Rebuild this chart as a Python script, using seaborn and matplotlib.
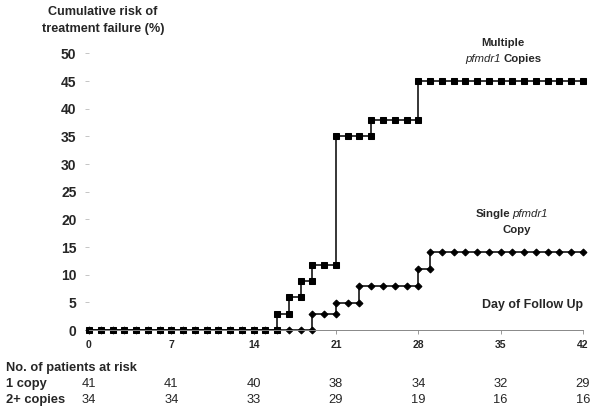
import numpy as np
import pandas as pd
import matplotlib
matplotlib.use("Agg")
import matplotlib.pyplot as plt
import matplotlib.transforms as mtransforms
import seaborn as sns

# day of follow up, one marker per day
days = list(range(0, 43))

# cumulative risk (%) on each day, after any step on that day
risk_multiple = [0] * 16 + [2.9, 5.9, 8.8, 11.8, 11.8, 35, 35, 35, 38, 38, 38, 38] + [45] * 15
risk_single = [0] * 19 + [2.9, 2.9, 4.9, 4.9, 7.9, 7.9, 7.9, 7.9, 7.9, 11.0] + [14.1] * 14

x_ticks = [0, 7, 14, 21, 28, 35, 42]
y_ticks = list(range(0, 55, 5))

# numbers at risk under each x tick
at_risk_1copy = [41, 41, 40, 38, 34, 32, 29]
at_risk_2copies = [34, 34, 33, 29, 19, 16, 16]


def step_points(d, r):
    # repeat a day when the risk steps up so the curve draws a vertical riser
    xs, ys = [], []
    prev = r[0]
    for day, val in zip(d, r):
        if val != prev:
            xs.append(day)
            ys.append(prev)
        xs.append(day)
        ys.append(val)
        prev = val
    return pd.DataFrame({"day": xs, "risk": ys})


sns.set_style("white")
plt.rcParams["font.family"] = ["Liberation Sans", "DejaVu Sans"]

fig = plt.figure(figsize=(6, 4.11), dpi=100)
ax = fig.add_axes([0.1483, 0.197, 0.8233, 0.6732])

single = step_points(days, risk_single)
multiple = step_points(days, risk_multiple)

sns.lineplot(data=single, x="day", y="risk", estimator=None, sort=False, ax=ax,
             color="black", linewidth=1.1, marker="D", markersize=3.5,
             markeredgecolor="black", clip_on=False)
sns.lineplot(data=multiple, x="day", y="risk", estimator=None, sort=False, ax=ax,
             color="black", linewidth=1.1, marker="s", markersize=5,
             markeredgecolor="black", clip_on=False)

ax.set_xlim(0, 42)
ax.set_ylim(0, 50)
ax.set_xticks(x_ticks)
ax.set_yticks(y_ticks)
ax.set_xticklabels([str(t) for t in x_ticks], fontsize=7.5, fontweight="bold")
ax.set_yticklabels([str(t) for t in y_ticks], fontsize=10, fontweight="bold")
ax.set_xlabel("")
ax.set_ylabel("")
for side in ["top", "right", "left"]:
    ax.spines[side].set_visible(False)
ax.spines["bottom"].set_color("#888888")
ax.spines["bottom"].set_linewidth(0.7)
ax.tick_params(axis="x", bottom=True, direction="out", length=3, width=0.6,
               color="#888888", pad=4.5)
ax.tick_params(axis="y", left=True, direction="out", length=3, width=0.6,
               color="#bbbbbb", pad=6)

# headings and curve labels
fig.text(103 / 600, 1 - 12 / 411, "Cumulative risk of", ha="center", va="center",
         fontsize=9.1, fontweight="bold")
fig.text(103 / 600, 1 - 29 / 411, "treatment failure (%)", ha="center", va="center",
         fontsize=9.1, fontweight="bold")

fig.text(503 / 600, 1 - 43 / 411, "Multiple", ha="center", va="center",
         fontsize=8.2, fontweight="bold")
fig.text(501 / 600, 1 - 59 / 411, "pfmdr1", ha="right", va="center",
         fontsize=8.2, style="italic")
fig.text(504 / 600, 1 - 59 / 411, "Copies", ha="left", va="center",
         fontsize=8.2, fontweight="bold")

fig.text(510 / 600, 1 - 214 / 411, "Single", ha="right", va="center",
         fontsize=8.2, fontweight="bold")
fig.text(512 / 600, 1 - 214 / 411, "pfmdr1", ha="left", va="center",
         fontsize=8.2, style="italic")
fig.text(517 / 600, 1 - 230 / 411, "Copy", ha="center", va="center",
         fontsize=8.2, fontweight="bold")

fig.text(533 / 600, 1 - 305 / 411, "Day of Follow Up", ha="center", va="center",
         fontsize=8.9, fontweight="bold")

# numbers at risk table
fig.text(6 / 600, 1 - 368 / 411, "No. of patients at risk", ha="left", va="center",
         fontsize=9.3, fontweight="bold")
fig.text(6 / 600, 1 - 384 / 411, "1 copy", ha="left", va="center",
         fontsize=9.3, fontweight="bold")
fig.text(6 / 600, 1 - 400 / 411, "2+ copies", ha="left", va="center",
         fontsize=9.3, fontweight="bold")

blend = mtransforms.blended_transform_factory(ax.transData, fig.transFigure)
for t, a, b in zip(x_ticks, at_risk_1copy, at_risk_2copies):
    ax.text(t, 1 - 384 / 411, str(a), transform=blend, ha="center", va="center", fontsize=9.3)
    ax.text(t, 1 - 400 / 411, str(b), transform=blend, ha="center", va="center", fontsize=9.3)

fig.savefig("out.png", dpi=100)
